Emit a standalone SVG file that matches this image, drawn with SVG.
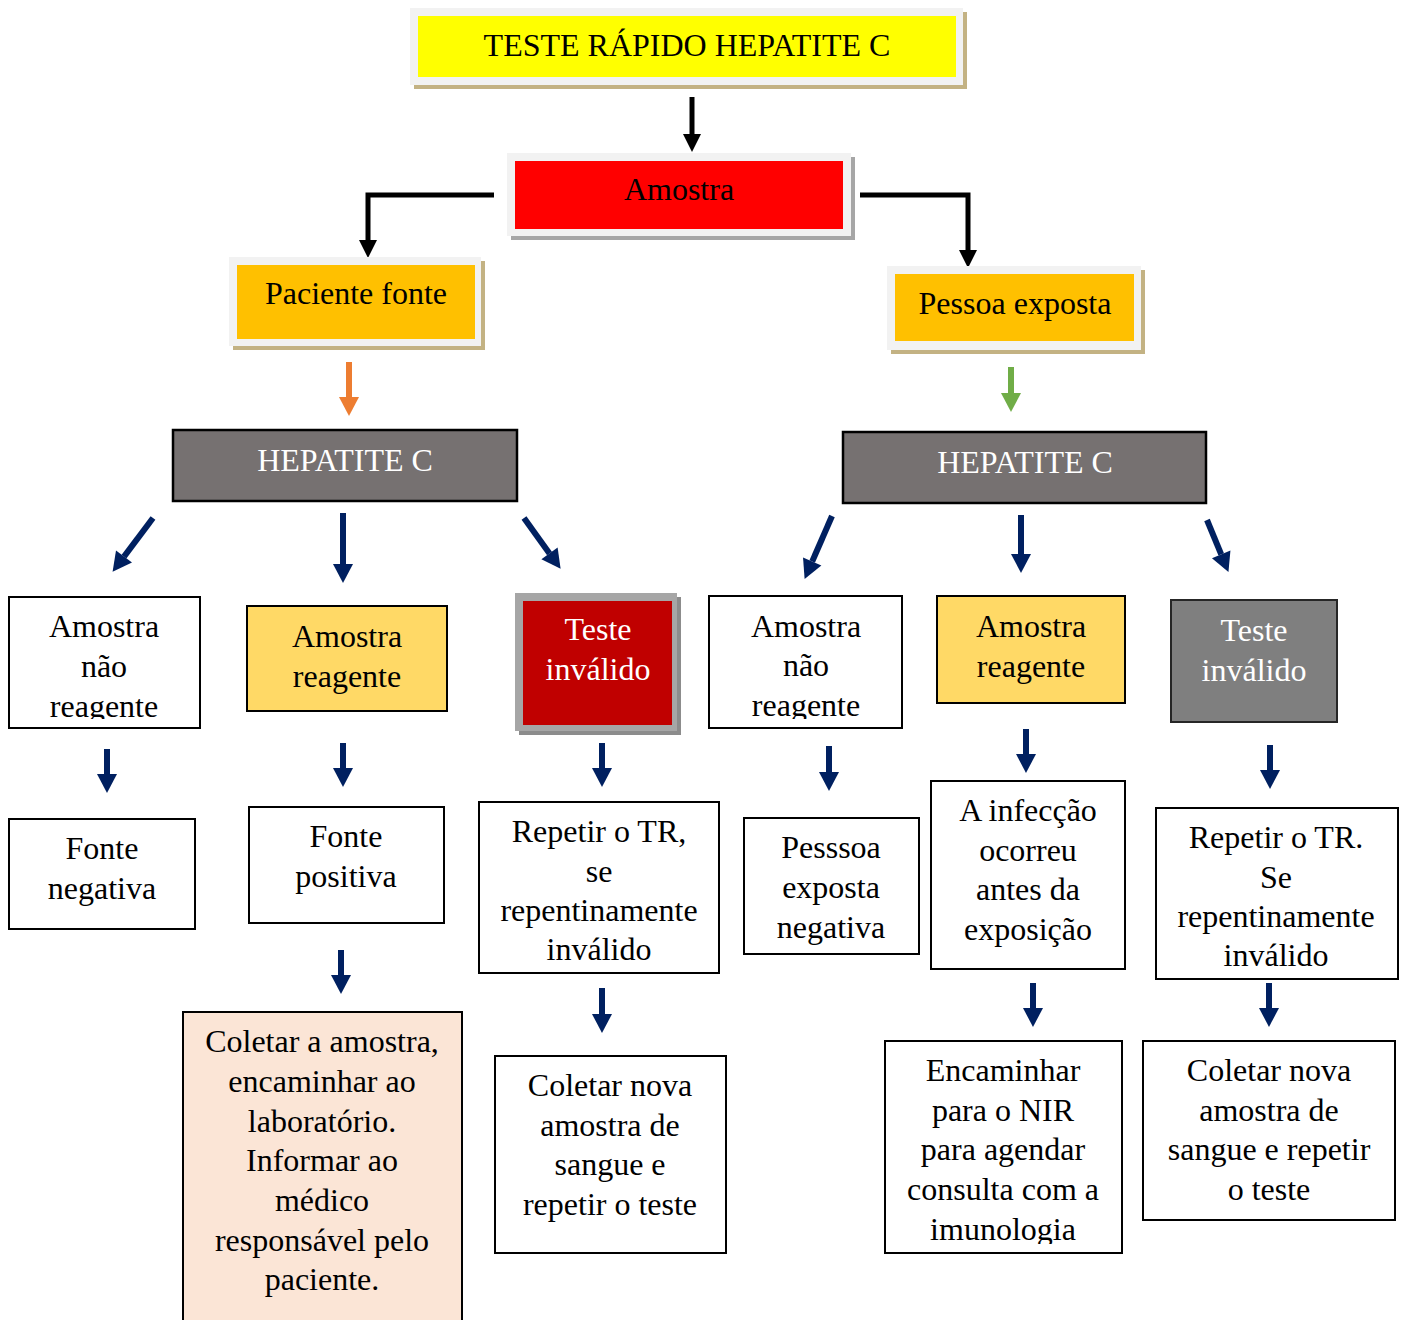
<svg xmlns="http://www.w3.org/2000/svg" width="1405" height="1320" viewBox="0 0 1405 1320">
  <style>
    text { font-family: "Liberation Serif", "Times New Roman", serif; font-size: 32px; text-anchor: middle; fill: #000; }
    .w { fill: #fff; }
    .box { fill: #fff; stroke: #000; stroke-width: 2; }
    .navy { stroke: #002060; stroke-width: 6; fill: none; marker-end: url(#hNavy); }
    .blk { stroke: #000; stroke-width: 5; fill: none; marker-end: url(#hBlk); }
  </style>
  <defs>
    <marker id="hNavy" markerUnits="userSpaceOnUse" markerWidth="22" markerHeight="22" viewBox="0 -11 20 22" refX="0" refY="0" orient="auto">
      <path d="M0,-10 L19,0 L0,10 z" fill="#002060"/>
    </marker>
    <marker id="hBlk" markerUnits="userSpaceOnUse" markerWidth="20" markerHeight="20" viewBox="0 -10 18 20" refX="0" refY="0" orient="auto">
      <path d="M0,-9 L18,0 L0,9 z" fill="#000"/>
    </marker>
    <marker id="hOrange" markerUnits="userSpaceOnUse" markerWidth="22" markerHeight="22" viewBox="0 -11 20 22" refX="0" refY="0" orient="auto">
      <path d="M0,-10 L19,0 L0,10 z" fill="#ed7d31"/>
    </marker>
    <marker id="hGreen" markerUnits="userSpaceOnUse" markerWidth="22" markerHeight="22" viewBox="0 -11 20 22" refX="0" refY="0" orient="auto">
      <path d="M0,-10 L19,0 L0,10 z" fill="#70ad47"/>
    </marker>
    <clipPath id="clipL"><rect x="8" y="597" width="192" height="122"/></clipPath>
    <clipPath id="clipR"><rect x="709" y="596" width="193" height="123"/></clipPath>
    <clipPath id="clipE"><rect x="884" y="1040" width="238" height="204"/></clipPath>
  </defs>

  <rect width="1405" height="1320" fill="#fff"/>

  <!-- connectors -->
  <g id="connectors">
    <line class="blk" x1="692" y1="97" x2="692" y2="134"/>
    <polyline class="blk" points="494,195 368,195 368,240"/>
    <polyline class="blk" points="860,195 968,195 968,250"/>
    <line x1="349" y1="362" x2="349" y2="397" stroke="#ed7d31" stroke-width="6" marker-end="url(#hOrange)"/>
    <line x1="1011" y1="367" x2="1011" y2="393" stroke="#70ad47" stroke-width="6" marker-end="url(#hGreen)"/>
    <!-- left branch -->
    <line class="navy" x1="153" y1="518" x2="124" y2="556.6"/>
    <line class="navy" x1="343" y1="513" x2="343" y2="564"/>
    <line class="navy" x1="524" y1="518" x2="549.5" y2="553.4"/>
    <line class="navy" x1="107" y1="749" x2="107" y2="774"/>
    <line class="navy" x1="343" y1="743" x2="343" y2="768"/>
    <line class="navy" x1="602" y1="743" x2="602" y2="768"/>
    <line class="navy" x1="341" y1="950" x2="341" y2="975"/>
    <line class="navy" x1="602" y1="988" x2="602" y2="1014"/>
    <!-- right branch -->
    <line class="navy" x1="832" y1="516" x2="812.2" y2="561.5"/>
    <line class="navy" x1="1021" y1="515" x2="1021" y2="554"/>
    <line class="navy" x1="1207" y1="520" x2="1221.2" y2="554.4"/>
    <line class="navy" x1="829" y1="746" x2="829" y2="772"/>
    <line class="navy" x1="1026" y1="729" x2="1026" y2="754"/>
    <line class="navy" x1="1270" y1="745" x2="1270" y2="770"/>
    <line class="navy" x1="1033" y1="983" x2="1033" y2="1008"/>
    <line class="navy" x1="1269" y1="983" x2="1269" y2="1008"/>
  </g>

  <!-- title -->
  <g id="titulo">
    <rect x="414" y="12" width="553" height="77" fill="#c3b283"/>
    <rect x="410" y="8" width="553" height="77" fill="#f2f2f2"/>
    <rect x="418" y="16" width="538" height="61" fill="#ffff00"/>
    <text x="687" y="56">TESTE RÁPIDO HEPATITE C</text>
  </g>

  <g id="amostra">
    <rect x="511" y="157" width="344" height="83" fill="#a6a6a6"/>
    <rect x="507" y="153" width="344" height="83" fill="#f2f2f2"/>
    <rect x="515" y="161" width="328" height="68" fill="#ff0000"/>
    <text x="679" y="200">Amostra</text>
  </g>

  <g id="paciente-fonte">
    <rect x="233" y="261" width="252" height="89" fill="#c3b283"/>
    <rect x="229" y="257" width="252" height="89" fill="#f2f2f2"/>
    <rect x="237" y="265" width="238" height="74" fill="#ffc000"/>
    <text x="356" y="304">Paciente fonte</text>
  </g>

  <g id="pessoa-exposta">
    <rect x="891" y="270" width="254" height="84" fill="#c3b283"/>
    <rect x="887" y="266" width="254" height="84" fill="#f2f2f2"/>
    <rect x="895" y="274" width="239" height="67" fill="#ffc000"/>
    <text x="1015" y="314">Pessoa exposta</text>
  </g>

  <g id="hepatite-fonte">
    <rect x="173" y="430" width="344" height="71" fill="#767171" stroke="#000" stroke-width="2.5"/>
    <text class="w" x="345" y="471">HEPATITE C</text>
  </g>

  <g id="hepatite-exposta">
    <rect x="843" y="432" width="363" height="71" fill="#767171" stroke="#000" stroke-width="2.5"/>
    <text class="w" x="1025" y="473">HEPATITE C</text>
  </g>

  <!-- source patient branch -->
  <g id="fonte-nao-reagente">
    <rect class="box" x="9" y="597" width="191" height="131"/>
    <g clip-path="url(#clipL)">
      <text x="104" y="637">Amostra</text>
      <text x="104" y="677">não</text>
      <text x="104" y="717">reagente</text>
    </g>
  </g>

  <g id="fonte-reagente">
    <rect x="247" y="606" width="200" height="105" fill="#ffd966" stroke="#000" stroke-width="2"/>
    <text x="347" y="647">Amostra</text>
    <text x="347" y="687">reagente</text>
  </g>

  <g id="fonte-invalido">
    <rect x="519" y="597" width="162" height="138" fill="#8c8c8c"/>
    <rect x="515" y="593" width="162" height="138" fill="#a6a6a6"/>
    <rect x="523" y="601" width="149" height="124" fill="#c00000"/>
    <text class="w" x="598" y="640">Teste</text>
    <text class="w" x="598" y="680">inválido</text>
  </g>

  <g id="fonte-negativa">
    <rect class="box" x="9" y="819" width="186" height="110"/>
    <text x="102" y="859">Fonte</text>
    <text x="102" y="899">negativa</text>
  </g>

  <g id="fonte-positiva">
    <rect class="box" x="249" y="807" width="195" height="116"/>
    <text x="346" y="847">Fonte</text>
    <text x="346" y="887">positiva</text>
  </g>

  <g id="coletar-laboratorio">
    <rect x="183" y="1012" width="279" height="320" fill="#fbe5d6" stroke="#000" stroke-width="2"/>
    <text x="322" y="1052">Coletar a amostra,</text>
    <text x="322" y="1092">encaminhar ao</text>
    <text x="322" y="1132">laboratório.</text>
    <text x="322" y="1171">Informar ao</text>
    <text x="322" y="1211">médico</text>
    <text x="322" y="1251">responsável pelo</text>
    <text x="322" y="1290">paciente.</text>
  </g>

  <g id="fonte-repetir">
    <rect class="box" x="479" y="802" width="240" height="171"/>
    <text x="599" y="842">Repetir o TR,</text>
    <text x="599" y="882">se</text>
    <text x="599" y="921">repentinamente</text>
    <text x="599" y="960">inválido</text>
  </g>

  <g id="fonte-coletar-nova">
    <rect class="box" x="495" y="1056" width="231" height="197"/>
    <text x="610" y="1096">Coletar nova</text>
    <text x="610" y="1136">amostra de</text>
    <text x="610" y="1175">sangue e</text>
    <text x="610" y="1215">repetir o teste</text>
  </g>

  <!-- exposed person branch -->
  <g id="exposta-nao-reagente">
    <rect class="box" x="709" y="596" width="193" height="132"/>
    <g clip-path="url(#clipR)">
      <text x="806" y="637">Amostra</text>
      <text x="806" y="676">não</text>
      <text x="806" y="716">reagente</text>
    </g>
  </g>

  <g id="exposta-reagente">
    <rect x="937" y="596" width="188" height="107" fill="#ffd966" stroke="#000" stroke-width="2"/>
    <text x="1031" y="637">Amostra</text>
    <text x="1031" y="677">reagente</text>
  </g>

  <g id="exposta-invalido">
    <rect x="1171" y="600" width="166" height="122" fill="#7f7f7f" stroke="#262626" stroke-width="2"/>
    <text class="w" x="1254" y="641">Teste</text>
    <text class="w" x="1254" y="681">inválido</text>
  </g>

  <g id="exposta-negativa">
    <rect class="box" x="744" y="818" width="175" height="136"/>
    <text x="831" y="858">Pesssoa</text>
    <text x="831" y="898">exposta</text>
    <text x="831" y="938">negativa</text>
  </g>

  <g id="infeccao-anterior">
    <rect class="box" x="931" y="781" width="194" height="188"/>
    <text x="1028" y="821">A infecção</text>
    <text x="1028" y="861">ocorreu</text>
    <text x="1028" y="900">antes da</text>
    <text x="1028" y="940">exposição</text>
  </g>

  <g id="exposta-repetir">
    <rect class="box" x="1156" y="808" width="242" height="171"/>
    <text x="1276" y="848">Repetir o TR.</text>
    <text x="1276" y="888">Se</text>
    <text x="1276" y="927">repentinamente</text>
    <text x="1276" y="966">inválido</text>
  </g>

  <g id="encaminhar-nir">
    <rect class="box" x="885" y="1041" width="237" height="212"/>
    <g clip-path="url(#clipE)">
      <text x="1003" y="1081">Encaminhar</text>
      <text x="1003" y="1121">para o NIR</text>
      <text x="1003" y="1160">para agendar</text>
      <text x="1003" y="1200">consulta com a</text>
      <text x="1003" y="1240">imunologia</text>
    </g>
  </g>

  <g id="exposta-coletar-nova">
    <rect class="box" x="1143" y="1041" width="252" height="179"/>
    <text x="1269" y="1081">Coletar nova</text>
    <text x="1269" y="1121">amostra de</text>
    <text x="1269" y="1160">sangue e repetir</text>
    <text x="1269" y="1200">o teste</text>
  </g>
</svg>
